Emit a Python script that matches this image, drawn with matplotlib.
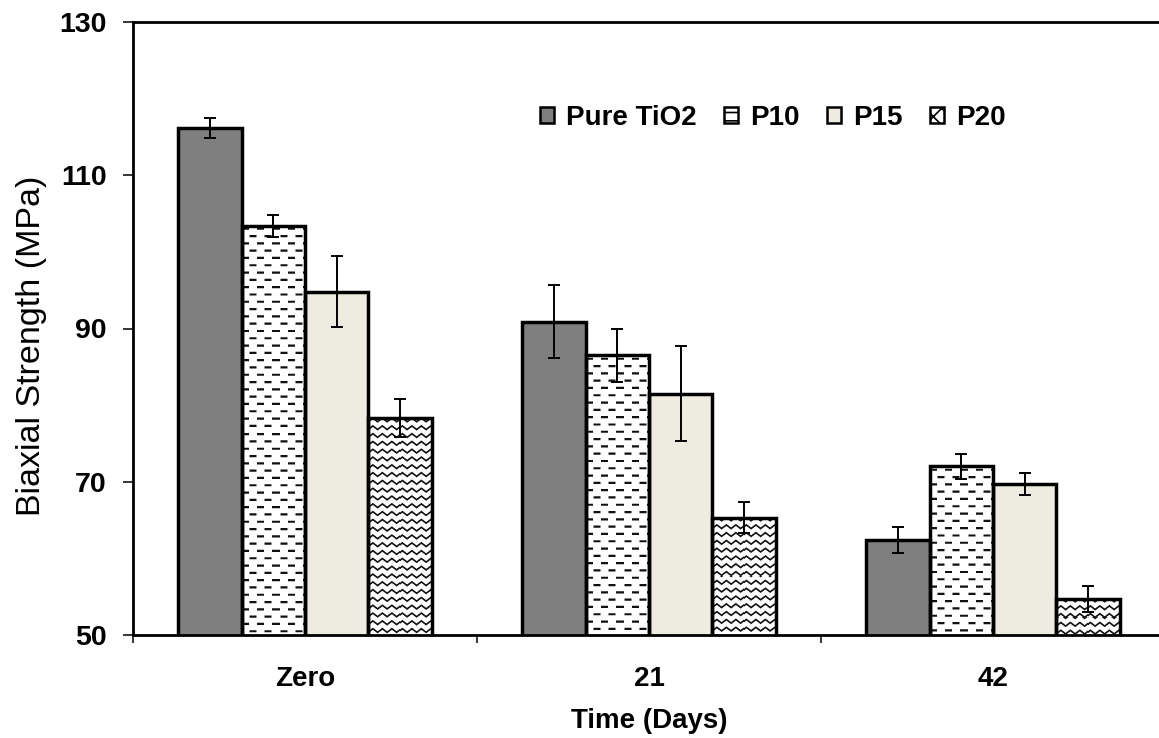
import numpy as np
import matplotlib
matplotlib.use("Agg")
import matplotlib.pyplot as plt
from matplotlib.patches import Patch
from matplotlib.colors import LinearSegmentedColormap
from matplotlib.ticker import FixedLocator

# ---- data ----
categories = ["Zero", "21", "42"]
series_names = ["Pure TiO2", "P10", "P15", "P20"]
pure_tio2 = [116.2, 90.9, 62.4]
pure_tio2_err = [1.3, 4.8, 1.7]
p10 = [103.4, 86.5, 72.0]
p10_err = [1.4, 3.5, 1.6]
p15 = [94.8, 81.5, 69.7]
p15_err = [4.6, 6.2, 1.4]
p20 = [78.3, 65.3, 54.7]
p20_err = [2.5, 2.0, 1.7]
y_ticks = [50, 70, 90, 110, 130]

values = [pure_tio2, p10, p15, p20]
errors = [pure_tio2_err, p10_err, p15_err, p20_err]

plt.rcParams["font.family"] = ["Liberation Sans", "DejaVu Sans"]
plt.rcParams["hatch.linewidth"] = 1.2

W, H = 1159, 738
fig = plt.figure(figsize=(W / 100, H / 100), dpi=100)
ax = fig.add_axes([133 / W, 103 / H, (1165 - 133) / W, (635 - 22) / H])
ax.set_xlim(-0.5, len(categories) - 0.5)
ax.set_ylim(y_ticks[0], y_ticks[-1])
ax.set_autoscale_on(False)

bar_w = 0.184
offsets = [-1.5, -0.5, 0.5, 1.5]
faces = ["#7f7f7f", "white", "#eeece1", "white"]
patterns = [None, "dash", None, "zigzag"]
x = np.arange(len(categories))


def pattern_tile(kind, w, h, ss=4):
    """Darkness map (0..1) for a fill pattern, w x h pixels, supersampled."""
    yy, xx = np.mgrid[0:h * ss, 0:w * ss] / ss
    if kind == "dash":
        py, period, dash, lw = 7.3, 15.0, 7.0, 2.2
        row = np.floor(yy / py)
        ry = yy - row * py
        off = (row % 2) * period / 2
        on_row = np.abs(ry - py / 2) < lw / 2
        on_dash = ((xx + off) % period) < dash
        d = (on_row & on_dash).astype(float)
    else:
        py, px, amp, lw = 7.8, 9.5, 3.6, 2.1
        tri = np.abs(((xx / px) % 1.0) - 0.5) * 2.0
        dy = (yy - amp * tri) % py
        dist = np.minimum(dy, py - dy)
        d = (dist < lw / 2).astype(float)
    d = d.reshape(h, ss, w, ss).mean(axis=(1, 3))
    return d


pat_cmap = LinearSegmentedColormap.from_list("pat", ["white", "#111111"])

for i in range(4):
    xs = x + offsets[i] * bar_w
    bars = ax.bar(xs, values[i], bar_w, bottom=0, color=faces[i],
                  edgecolor="none", zorder=2)
    if patterns[i] is not None:
        for b in bars:
            x0, y0 = b.get_x(), y_ticks[0]
            x1, y1 = x0 + b.get_width(), b.get_height()
            p0 = ax.transData.transform((x0, y0))
            p1 = ax.transData.transform((x1, y1))
            wpx = max(int(round(abs(p1[0] - p0[0]))), 1)
            hpx = max(int(round(abs(p1[1] - p0[1]))), 1)
            tile = pattern_tile(patterns[i], wpx, hpx)
            im = ax.imshow(tile, extent=(x0, x1, y0, y1), origin="upper",
                           cmap=pat_cmap, vmin=0, vmax=1, aspect="auto",
                           interpolation="nearest", zorder=2.5)
            im.set_clip_path(b)
    ax.bar(xs, values[i], bar_w, bottom=0, fill=False, edgecolor="black",
           linewidth=2.5, zorder=3)
    ax.errorbar(xs, values[i], yerr=errors[i], fmt="none", ecolor="black",
                elinewidth=1.4, capsize=4.3, capthick=1.4, zorder=4)

ax.set_xlim(-0.5, len(categories) - 0.5)
ax.set_ylim(y_ticks[0], y_ticks[-1])

# spines
for side in ["left", "bottom", "top", "right"]:
    ax.spines[side].set_linewidth(2.0)
    ax.spines[side].set_color("black")

# ticks
ax.set_yticks(y_ticks)
ax.set_yticklabels([str(t) for t in y_ticks], fontsize=20.5, fontweight="bold")
ax.tick_params(axis="y", direction="out", length=7, width=1.1, pad=12)
ax.set_xticks(x)
ax.set_xticklabels(categories, fontsize=20, fontweight="bold")
ax.tick_params(axis="x", which="major", length=0, pad=22)
ax.xaxis.set_minor_locator(FixedLocator(np.arange(-0.5, len(categories), 1.0)))
ax.tick_params(axis="x", which="minor", direction="out", length=6, width=1.1)

ax.set_xlabel("Time (Days)", fontsize=20, fontweight="bold", labelpad=12)
ax.set_ylabel("Biaxial Strength (MPa)", fontsize=24.5)
ax.yaxis.set_label_coords(-0.0833, 0.471)

# legend
handles = [
    Patch(facecolor="#7f7f7f", edgecolor="black", linewidth=1.8),
    Patch(facecolor="white", edgecolor="black", linewidth=1.8, hatch="--"),
    Patch(facecolor="#eeece1", edgecolor="black", linewidth=1.8),
    Patch(facecolor="white", edgecolor="black", linewidth=1.8, hatch="xx"),
]
leg = fig.legend(handles, series_names, loc="center left",
                 bbox_to_anchor=(540 / W, (H - 118) / H), ncol=4, frameon=False,
                 prop={"size": 20, "weight": "bold"}, handlelength=0.5,
                 handleheight=0.5, handletextpad=0.43, columnspacing=1.0,
                 borderpad=0, borderaxespad=0)

fig.savefig("out.png", dpi=100)
